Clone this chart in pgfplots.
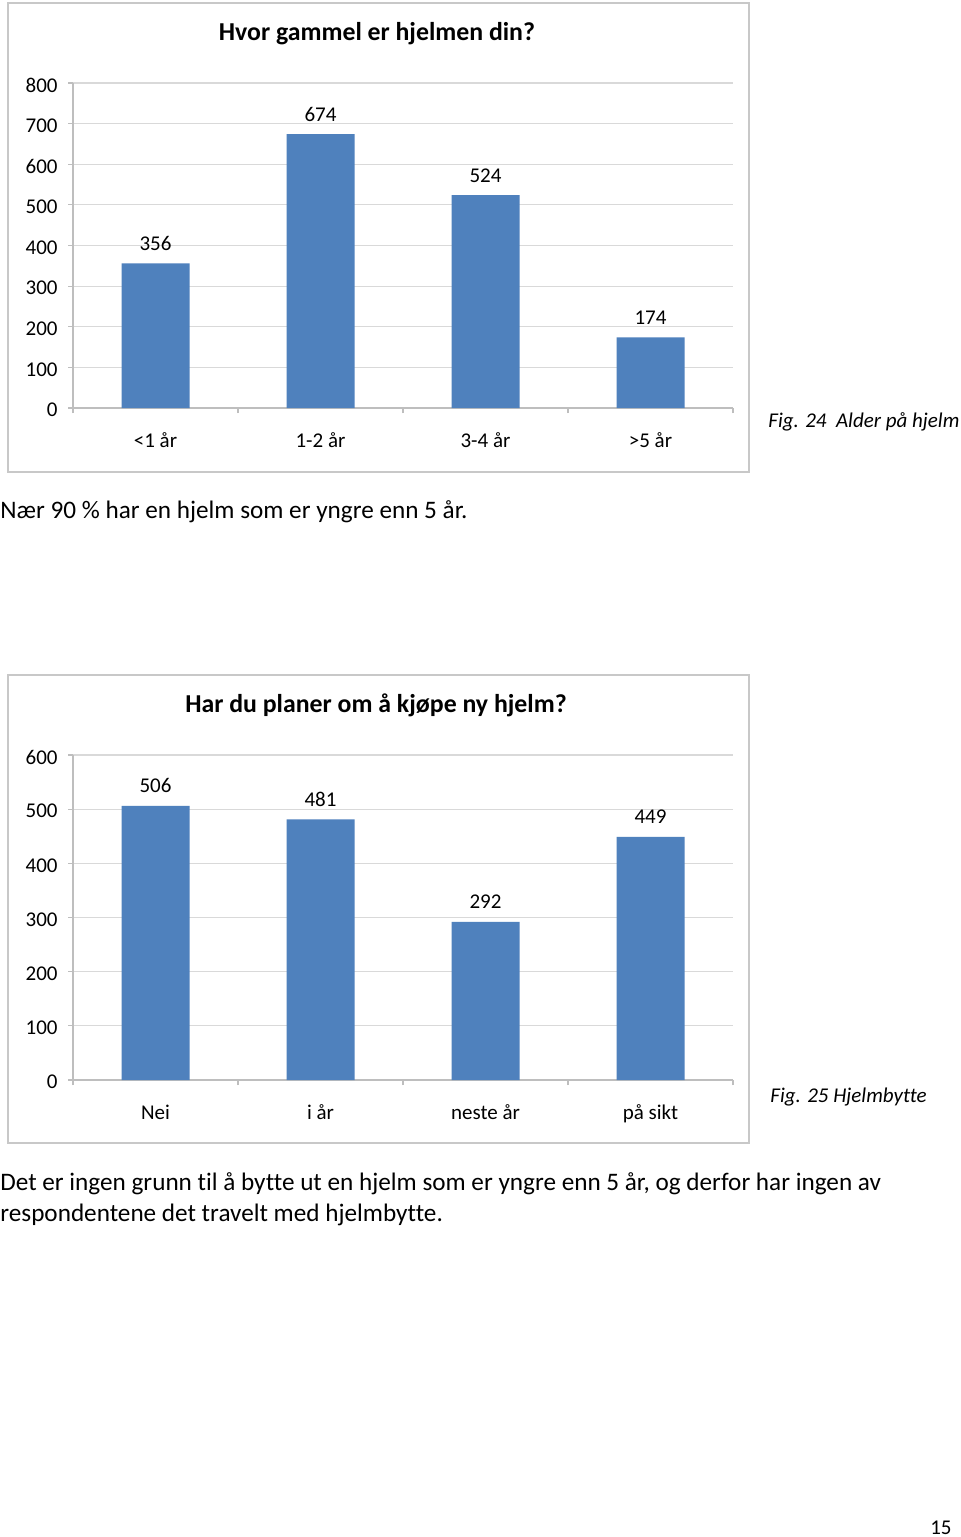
\documentclass[border=0pt]{standalone}
\usepackage{pgfplots}
\pgfplotsset{compat=1.18}
\usepackage{fontspec}
\setmainfont{Carlito}[Ligatures={NoCommon}]
\definecolor{barblue}{RGB}{79,129,189}
\definecolor{gridgray}{RGB}{217,217,217}
\definecolor{axisgray}{RGB}{190,190,190}
\definecolor{framegray}{RGB}{200,200,200}
\newcommand\bodyfont{\fontsize{12.6}{15}\selectfont}
\newcommand\tickfont{\fontsize{10.5}{12}\selectfont}

\pgfplotsset{
  hjelm/.style={
    scale only axis, width=330pt, height=162.5pt,
    anchor=south west,
    ybar, bar width=34pt,
    xmin=-0.5, xmax=3.5, ymin=0,
    axis x line*=bottom, axis y line*=left,
    axis line style={axisgray, line width=0.6pt},
    tick align=outside,
    major tick length=2.5pt, minor tick length=2.5pt,
    xtick={0,1,2,3},
    major x tick style={draw=none},
    minor xtick={-0.5,0.5,1.5,2.5,3.5},
    minor x tick style={axisgray, line width=0.6pt},
    major y tick style={axisgray, line width=0.6pt},
    ymajorgrids, grid style={gridgray, line width=0.6pt},
    ytick distance=100,
    /pgf/number format/assume math mode=true,
    tick label style={font=\tickfont, text=black},
    yticklabel style={anchor=east, inner sep=0pt, xshift=-5pt, yshift=-1pt},
    xticklabel style={anchor=base, inner sep=0pt, yshift=-17pt},
    nodes near coords,
    every node near coord/.append style={font=\tickfont, anchor=base, inner sep=0pt, yshift=6.5pt, text=black},
  }
}

\begin{document}
\begin{tikzpicture}
\path[fill=white, use as bounding box] (0pt,0pt) rectangle (480pt,-768.5pt);

% first chart
\draw[framegray, line width=0.6pt] (4pt,-1.5pt) rectangle (374.5pt,-236pt);
\node[anchor=base, font=\fontsize{12.9}{15}\selectfont\bfseries, inner sep=0pt] at (188.5pt,-20pt) {Hvor gammel er hjelmen din?};
\begin{axis}[hjelm, at={(36.5pt,-204pt)}, ymax=800,
    xticklabels={<1 år, 1-2 år, 3-4 år, >5 år}]
\addplot[fill=barblue, draw=none] coordinates {
    (0,356) (1,674) (2,524) (3,174)
};
\end{axis}
\node[anchor=base west, font=\fontsize{10.5}{12}\selectfont\itshape, inner sep=0pt] at (384pt,-213.5pt) {Fig. 24\ \ Alder på hjelm};

\node[anchor=base west, font=\bodyfont, inner sep=0pt] at (0pt,-259pt) {Nær 90 \% har en hjelm som er yngre enn 5 år.};

% second chart
\draw[framegray, line width=0.6pt] (4pt,-337.5pt) rectangle (374.5pt,-571.5pt);
\node[anchor=base, font=\fontsize{12.9}{15}\selectfont\bfseries, inner sep=0pt] at (188pt,-356pt) {Har du planer om å kjøpe ny hjelm?};
\begin{axis}[hjelm, at={(36.5pt,-540pt)}, ymax=600,
    xticklabels={Nei, i år, neste år, på sikt}]
\addplot[fill=barblue, draw=none] coordinates {
    (0,506) (1,481) (2,292) (3,449)
};
\end{axis}
\node[anchor=base west, font=\fontsize{10.5}{12}\selectfont\itshape, inner sep=0pt] at (385pt,-551pt) {Fig. 25 Hjelmbytte};

\node[anchor=base west, font=\bodyfont, inner sep=0pt] at (0pt,-595pt) {Det er ingen grunn til å bytte ut en hjelm som er yngre enn 5 år, og derfor har ingen av};
\node[anchor=base west, font=\bodyfont, inner sep=0pt] at (0pt,-610.5pt) {respondentene det travelt med hjelmbytte.};

\node[anchor=base east, font=\fontsize{10.5}{12}\selectfont, inner sep=0pt] at (476pt,-767pt) {15};
\end{tikzpicture}
\end{document}
